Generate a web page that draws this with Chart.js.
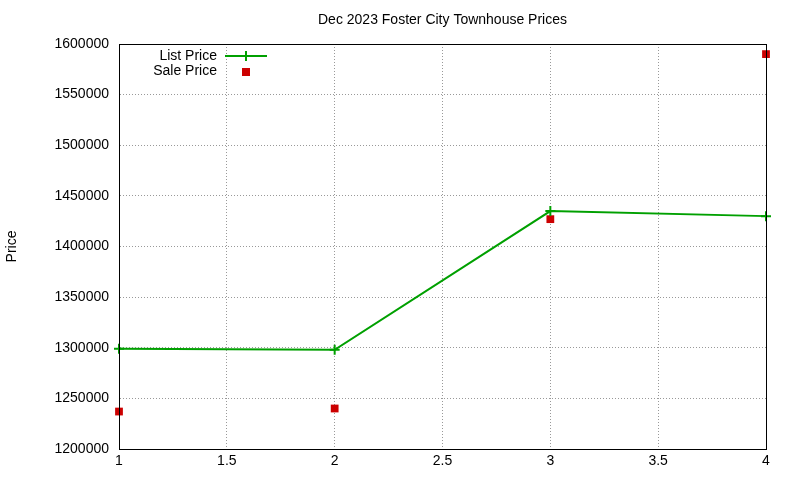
<!DOCTYPE html>
<html><head><meta charset="utf-8">
<script src="https://cdn.jsdelivr.net/npm/chart.js@4"></script>
<style>body{margin:0;background:#fff}</style>
</head><body>
<canvas id="c" width="800" height="480"></canvas>
<script>
const xValues = [1, 2, 3, 4];
const listPrice = [1299000, 1298000, 1435000, 1430000];
const salePrice = [1237000, 1240000, 1427000, 1590000];
const titleText = 'Dec 2023 Foster City Townhouse Prices';
const FONT = '"Liberation Sans", Arial, sans-serif';

const legendPlugin = {
  id: 'gpLegend',
  afterDraw(chart) {
    const ctx = chart.ctx, a = chart.chartArea;
    ctx.save();
    ctx.font = '14px ' + FONT;
    ctx.fillStyle = '#000';
    ctx.textAlign = 'center';
    ctx.textBaseline = 'middle';
    ctx.fillText(titleText, (a.left + a.right) / 2, 20);
    ctx.textAlign = 'right';
    ctx.fillText('List Price', 217, 56);
    ctx.fillText('Sale Price', 217, 71);
    ctx.strokeStyle = '#00a000';
    ctx.lineWidth = 2;
    ctx.beginPath(); ctx.moveTo(225, 56); ctx.lineTo(267, 56);
    ctx.moveTo(246, 51); ctx.lineTo(246, 61); ctx.stroke();
    ctx.fillStyle = '#cc0000';
    ctx.fillRect(242, 68, 8, 8);
    ctx.restore();
  }
};

new Chart(document.getElementById('c'), {
  type: 'scatter',
  data: {
    datasets: [
      { label: 'List Price', data: xValues.map((x, i) => ({x, y: listPrice[i]})),
        showLine: true, borderColor: '#00a000', backgroundColor: '#00a000', borderWidth: 2,
        pointStyle: 'cross', pointRadius: 5, pointBorderWidth: 2, tension: 0, clip: false },
      { label: 'Sale Price', data: xValues.map((x, i) => ({x, y: salePrice[i]})),
        showLine: false, borderColor: '#cc0000', backgroundColor: '#cc0000',
        pointStyle: 'rect', pointRadius: 5.5, pointBorderWidth: 0, clip: false }
    ]
  },
  options: {
    responsive: false, animation: false,
    layout: { padding: { top: 44, right: 34, bottom: 0, left: 0 } },
    plugins: { legend: { display: false }, tooltip: { enabled: false }, title: { display: false } },
    scales: {
      x: { type: 'linear', min: 1, max: 4,
        ticks: { stepSize: 0.5, color: '#000', font: { family: FONT, size: 14 }, padding: 4,
          callback: v => String(v) },
        grid: { color: '#999', tickLength: 0, drawTicks: false },
        border: { color: '#000', width: 1, dash: [1, 2] },
        afterFit(s) { s.height = 31; } },
      y: { min: 1200000, max: 1600000,
        ticks: { stepSize: 50000, color: '#000', font: { family: FONT, size: 14 }, padding: 10,
          callback: v => String(v) },
        grid: { color: '#999', drawTicks: false },
        border: { color: '#000', width: 1, dash: [1, 2] },
        title: { display: true, text: 'Price', color: '#000', font: { family: FONT, size: 14 } },
        afterFit(s) { s.width = 119; } }
    }
  },
  plugins: [legendPlugin, {
    id: 'frame',
    afterDatasetsDraw(chart) {
      const a = chart.chartArea, ctx = chart.ctx;
      ctx.save(); ctx.strokeStyle = '#000'; ctx.lineWidth = 1;
      ctx.strokeRect(a.left + 0.5, a.top + 0.5, a.right - a.left, a.bottom - a.top);
      ctx.restore();
    }
  }]
});
</script>
</body></html>
